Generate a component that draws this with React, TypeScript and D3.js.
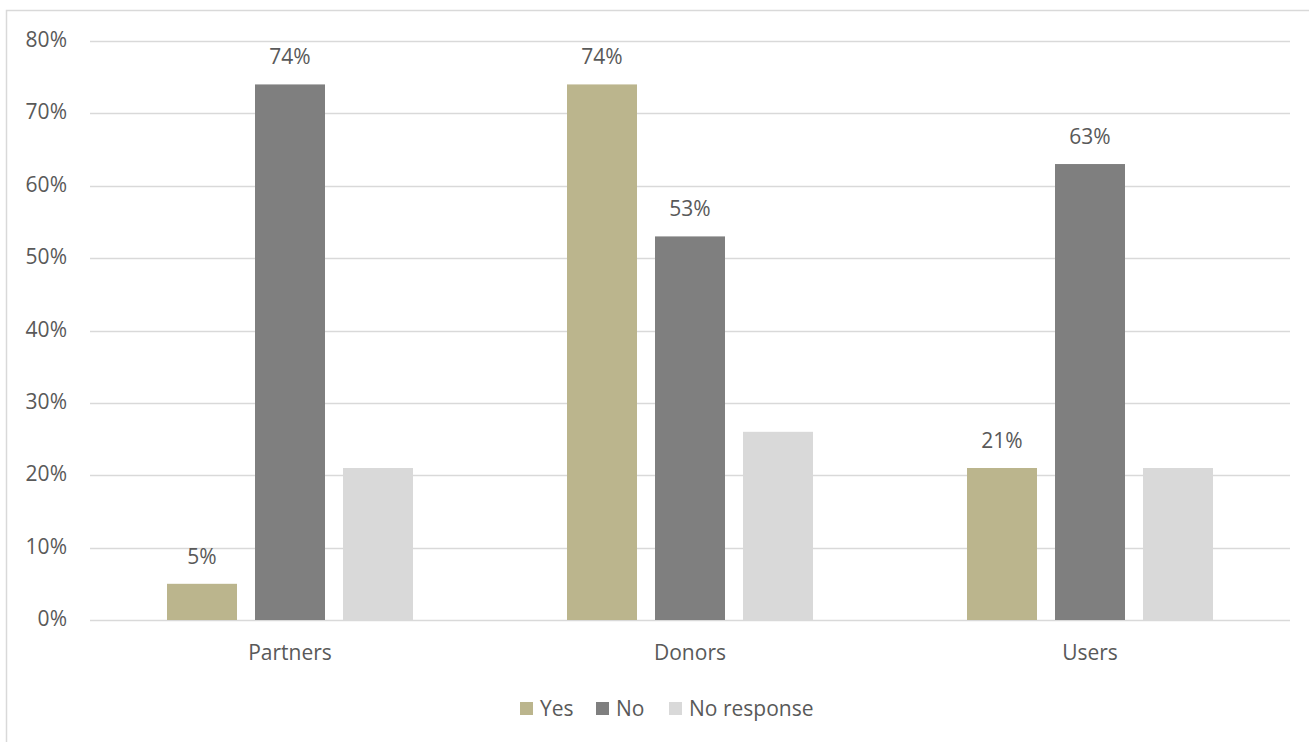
import React from "react";
import * as d3 from "d3";

const categories = ["Partners", "Donors", "Users"];
const seriesNames = ["Yes", "No", "No response"];
const yesValues = [5, 74, 21];
const noValues = [74, 53, 63];
const noResponseValues = [21, 26, 21];
const labelledSeries = [true, true, false];
const yTicks = [0, 10, 20, 30, 40, 50, 60, 70, 80];
const colors = ["#BBB58D", "#7F7F7F", "#D9D9D9"];

const W = 1309;
const H = 742;
const left = 90;
const right = 1290;
const top = 41;
const bottom = 620;
const FONT = "'Open Sans', 'DejaVu Sans', sans-serif";
const TEXT = "#595959";
const FS = 21;

export default function App() {
  const series = [yesValues, noValues, noResponseValues];
  const x0 = d3.scaleBand<string>().domain(categories).range([left, right]).padding(0);
  const groupW = 246;
  const x1 = d3
    .scaleBand<string>()
    .domain(seriesNames)
    .range([0, groupW])
    .paddingInner(18 / 88)
    .paddingOuter(0);
  const y = d3.scaleLinear().domain([0, 80]).range([bottom, top]);
  const off = (x0.bandwidth() - groupW) / 2;

  const legendX = [520, 596, 669];

  return (
    <svg
      width={W}
      height={H}
      style={{ position: "absolute", left: 0, top: 0, background: "#fff" }}
    >
      <rect x={6.5} y={10.5} width={W + 20} height={H + 20} fill="#fff" stroke="#D9D9D9" strokeWidth={1.5} />
      {yTicks.map((t) => (
        <g key={t}>
          <line x1={left} x2={right} y1={Math.round(y(t)) + 0.5} y2={Math.round(y(t)) + 0.5} stroke="#D9D9D9" strokeWidth={1.3} />
          <text x={67} y={y(t) + 6} textAnchor="end" fontFamily={FONT} fontSize={FS} fill={TEXT}>
            {t}%
          </text>
        </g>
      ))}
      {categories.map((c, ci) => (
        <g key={c}>
          {seriesNames.map((s, si) => {
            const v = series[si][ci];
            const bx = (x0(c) as number) + off + (x1(s) as number);
            const bw = x1.bandwidth();
            return (
              <g key={s}>
                <rect x={bx} y={y(v)} width={bw} height={y(0) - y(v)} fill={colors[si]} />
                {labelledSeries[si] && (
                  <text x={bx + bw / 2} y={y(v) - 20} textAnchor="middle" fontFamily={FONT} fontSize={FS} fill={TEXT}>
                    {v}%
                  </text>
                )}
              </g>
            );
          })}
          <text
            x={(x0(c) as number) + x0.bandwidth() / 2}
            y={660}
            textAnchor="middle"
            fontFamily={FONT}
            fontSize={FS}
            fill={TEXT}
          >
            {c}
          </text>
        </g>
      ))}
      {seriesNames.map((name, i) => (
        <g key={name}>
          <rect x={legendX[i]} y={702} width={13} height={13} fill={colors[i]} />
          <text x={legendX[i] + 20} y={716} fontFamily={FONT} fontSize={FS} fill={TEXT}>
            {name}
          </text>
        </g>
      ))}
    </svg>
  );
}
